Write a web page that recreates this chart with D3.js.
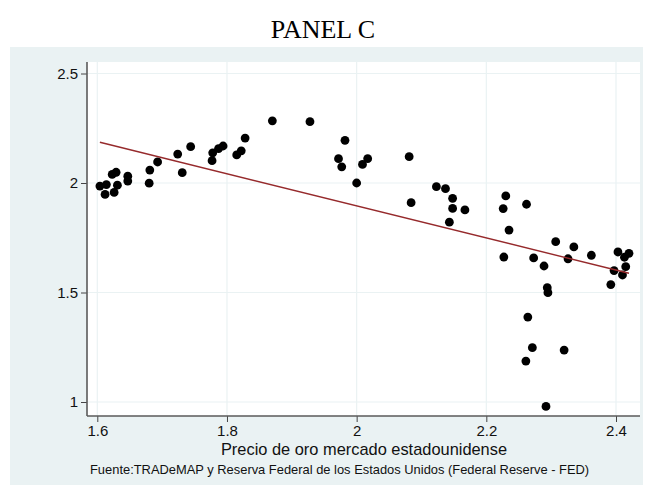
<!DOCTYPE html>
<html>
<head>
<meta charset="utf-8">
<script src="https://cdn.jsdelivr.net/npm/d3@7"></script>
<style>
  html, body { margin: 0; padding: 0; background: #ffffff; }
  svg { display: block; }
</style>
</head>
<body>
<svg id="chart" width="645" height="486"></svg>
<script>
// Gold price (US market) vs. dependent series, with linear fit
const goldPrice = [
  1.604, 1.614, 1.612, 1.623, 1.629, 1.626, 1.631, 1.647, 1.647, 1.680,
  1.681, 1.693, 1.724, 1.731, 1.744, 1.777, 1.778, 1.787, 1.794, 1.815,
  1.822, 1.828, 1.870, 1.928, 1.982, 1.972, 1.977, 2.000, 2.009, 2.017,
  2.081, 2.084, 2.123, 2.137, 2.148, 2.148, 2.167, 2.143, 2.230, 2.226,
  2.262, 2.235, 2.227, 2.307, 2.335, 2.273, 2.326, 2.362, 2.289, 2.403,
  2.413, 2.420, 2.415, 2.397, 2.410, 2.392, 2.294, 2.295, 2.264, 2.271,
  2.261, 2.320, 2.292
];
const seriesY = [
  1.986, 1.993, 1.948, 2.039, 2.049, 1.957, 1.990, 2.031, 2.009, 1.999,
  2.059, 2.096, 2.132, 2.047, 2.166, 2.102, 2.138, 2.157, 2.169, 2.128,
  2.147, 2.205, 2.284, 2.280, 2.195, 2.111, 2.074, 2.000, 2.085, 2.111,
  2.120, 1.910, 1.983, 1.974, 1.930, 1.884, 1.877, 1.821, 1.941, 1.883,
  1.903, 1.785, 1.662, 1.732, 1.708, 1.658, 1.654, 1.670, 1.621, 1.685,
  1.661, 1.679, 1.618, 1.600, 1.580, 1.536, 1.522, 1.499, 1.388, 1.248,
  1.187, 1.237, 0.980
];
const xTicks = [1.6, 1.8, 2, 2.2, 2.4];
const yTicks = [1, 1.5, 2, 2.5];
const xTickLabels = ["1.6", "1.8", "2", "2.2", "2.4"];
const yTickLabels = ["1", "1.5", "2", "2.5"];

const titleText = "PANEL C";
const xTitle = "Precio de oro mercado estadounidense";
const noteText = "Fuente:TRADeMAP y Reserva Federal de los Estados Unidos (Federal Reserve - FED)";

const svg = d3.select("#chart");

// Outer graph region
svg.append("rect")
  .attr("x", 10).attr("y", 47).attr("width", 633).attr("height", 438)
  .attr("fill", "#eaf2f3");

// Plot region
const plot = { left: 87, top: 62, right: 640, bottom: 416 };
svg.append("rect")
  .attr("x", plot.left).attr("y", plot.top)
  .attr("width", plot.right - plot.left).attr("height", plot.bottom - plot.top)
  .attr("fill", "#ffffff");

const x = d3.scaleLinear().domain([1.6, 2.4]).range([97.3, 616]);
const y = d3.scaleLinear().domain([1, 2.5]).range([402, 73.5]);

// Gridlines
svg.append("g").selectAll("line").data(yTicks).join("line")
  .attr("x1", plot.left).attr("x2", plot.right)
  .attr("y1", d => y(d)).attr("y2", d => y(d))
  .attr("stroke", "#eaf2f3").attr("stroke-width", 1.2);
svg.append("g").selectAll("line").data(xTicks).join("line")
  .attr("y1", plot.top).attr("y2", plot.bottom)
  .attr("x1", d => x(d)).attr("x2", d => x(d))
  .attr("stroke", "#eaf2f3").attr("stroke-width", 1.2);

// Axes
const yAxis = d3.axisLeft(y).tickValues(yTicks)
  .tickFormat((d, i) => yTickLabels[i]).tickSize(6).tickPadding(3);
const xAxis = d3.axisBottom(x).tickValues(xTicks)
  .tickFormat((d, i) => xTickLabels[i]).tickSize(6).tickPadding(3);

const gy = svg.append("g").attr("transform", `translate(${plot.left},0)`).call(yAxis);
const gx = svg.append("g").attr("transform", `translate(0,${plot.bottom})`).call(xAxis);

[gy, gx].forEach(g => {
  g.select(".domain").remove();
  g.selectAll(".tick line").attr("stroke", "#444").attr("stroke-width", 1);
  g.selectAll(".tick text")
    .attr("fill", "#111")
    .style("font-family", "'Liberation Sans', Arial, sans-serif")
    .style("font-size", "15px");
});
gx.selectAll(".tick text").attr("dy", "0.71em");

// Axis lines
svg.append("line")
  .attr("x1", plot.left).attr("x2", plot.left)
  .attr("y1", plot.top).attr("y2", plot.bottom)
  .attr("stroke", "#5a5a5a").attr("stroke-width", 1.6);
svg.append("line")
  .attr("x1", plot.left).attr("x2", plot.right)
  .attr("y1", plot.bottom).attr("y2", plot.bottom)
  .attr("stroke", "#5a5a5a").attr("stroke-width", 1.6);

// Points
const points = goldPrice.map((d, i) => ({ x: d, y: seriesY[i] }));
svg.append("g").selectAll("circle").data(points).join("circle")
  .attr("cx", d => x(d.x)).attr("cy", d => y(d.y))
  .attr("r", 4.4).attr("fill", "#000");

// Least-squares linear fit across the observed range
const mx = d3.mean(goldPrice), my = d3.mean(seriesY);
const sxy = d3.sum(points, d => (d.x - mx) * (d.y - my));
const sxx = d3.sum(points, d => (d.x - mx) ** 2);
const slope = sxy / sxx, intercept = my - slope * mx;
const [xmin, xmax] = d3.extent(goldPrice);
const fit = [xmin, xmax].map(v => ({ x: v, y: intercept + slope * v }));
svg.append("path")
  .datum(fit)
  .attr("d", d3.line().x(d => x(d.x)).y(d => y(d.y)))
  .attr("fill", "none").attr("stroke", "#962a2c").attr("stroke-width", 1.4);

// Titles
svg.append("text")
  .attr("x", 323).attr("y", 38).attr("text-anchor", "middle")
  .style("font-family", "'Liberation Serif', 'Times New Roman', serif")
  .style("font-size", "26px").attr("fill", "#000")
  .text(titleText);

svg.append("text")
  .attr("x", 364).attr("y", 455).attr("text-anchor", "middle")
  .style("font-family", "'Liberation Sans', Arial, sans-serif")
  .style("font-size", "16.4px").attr("fill", "#111")
  .text(xTitle);

svg.append("text")
  .attr("x", 90).attr("y", 474)
  .style("font-family", "'Liberation Sans', Arial, sans-serif")
  .style("font-size", "12.9px").attr("fill", "#111")
  .text(noteText);
</script>
</body>
</html>
